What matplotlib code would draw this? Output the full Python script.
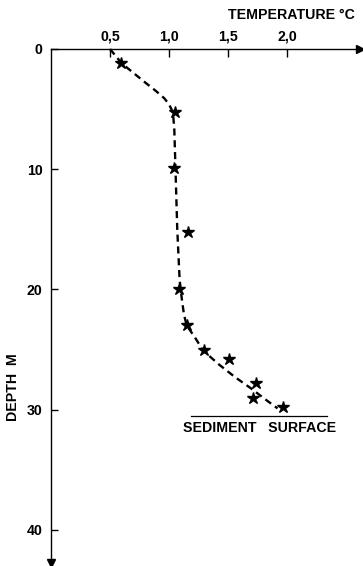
import matplotlib
matplotlib.use("Agg")
import matplotlib.pyplot as plt

# Measured temperatures at depth
temp_c = [0.59, 1.05, 1.04, 1.16, 1.085, 1.15, 1.30, 1.51, 1.74, 1.71, 1.97]
depth_m = [1.2, 5.2, 9.9, 15.2, 20.0, 23.0, 25.0, 25.8, 27.8, 29.0, 29.8]

# Hand-drawn profile through the measurements
profile_t = [0.50, 0.60, 0.70, 0.80, 0.89, 0.96, 1.00, 1.025, 1.037, 1.045, 1.055, 1.07, 1.09,
             1.11, 1.127, 1.15, 1.22, 1.29, 1.43, 1.56, 1.69, 1.81, 1.92]
profile_d = [0.0, 1.2, 2.0, 2.8, 3.5, 4.1, 4.6, 5.1, 5.7, 6.7, 10.0, 15.0, 19.2,
             20.9, 22.1, 23.0, 24.0, 25.1, 26.3, 27.3, 28.2, 29.1, 29.9]

# Sediment surface
sediment_t = [1.19, 2.34]
sediment_d = [30.5, 30.5]

xticks = [0.5, 1.0, 1.5, 2.0]
xticklabels = ["0,5", "1,0", "1,5", "2,0"]
yticks = [0, 10, 20, 30, 40]
yticklabels = ["0", "10", "20", "30", "40"]

W, H = 363, 566
fig = plt.figure(figsize=(W / 100, H / 100), dpi=100)
left, right, top, bottom = 51, 360, 49, 563
ax = fig.add_axes([left / W, 1 - bottom / H, (right - left) / W, (bottom - top) / H])

xmax = (right - left) / 118.0
ymax = (bottom - top) / 12.02
ax.set_xlim(0, xmax)
ax.set_ylim(ymax, 0)

font = {"family": ["Liberation Sans", "DejaVu Sans"], "size": 10.2, "weight": "bold"}

for s in ["right", "bottom"]:
    ax.spines[s].set_visible(False)
ax.spines["top"].set_linewidth(1.0)
ax.spines["left"].set_linewidth(1.0)

# Arrowheads on both axes
ax.plot([xmax], [0], marker=">", color="black", markersize=6, clip_on=False)
ax.plot([0], [ymax], marker="v", color="black", markersize=6, clip_on=False)

ax.xaxis.tick_top()
ax.set_xticks(xticks)
ax.set_xticklabels(xticklabels, fontdict=font)
ax.tick_params(axis="x", direction="in", length=6, width=1.0, pad=4)
ax.set_yticks(yticks)
ax.set_yticklabels(yticklabels, fontdict=font)
ax.tick_params(axis="y", direction="in", length=5, width=1.0, pad=6)

ax.plot(profile_t, profile_d, color="black", lw=1.7, ls=(0, (3, 2)), clip_on=False)
ax.plot(temp_c, depth_m, ls="none", marker="*", color="black", markersize=9, clip_on=False)

ax.plot(sediment_t, sediment_d, color="black", lw=0.9)
ax.text(sum(sediment_t) / 2, sediment_d[0] + 1.0, "SEDIMENT   SURFACE",
        ha="center", va="center", fontdict=font)

fig.text(355 / W, 1 - 15 / H, "TEMPERATURE \u00b0C", ha="right", va="center", fontdict=font)
fig.text(13 / W, 1 - 387 / H, "DEPTH  M", ha="center", va="center", rotation=90, fontdict=font)

fig.savefig("out.png", dpi=100, facecolor="white")
